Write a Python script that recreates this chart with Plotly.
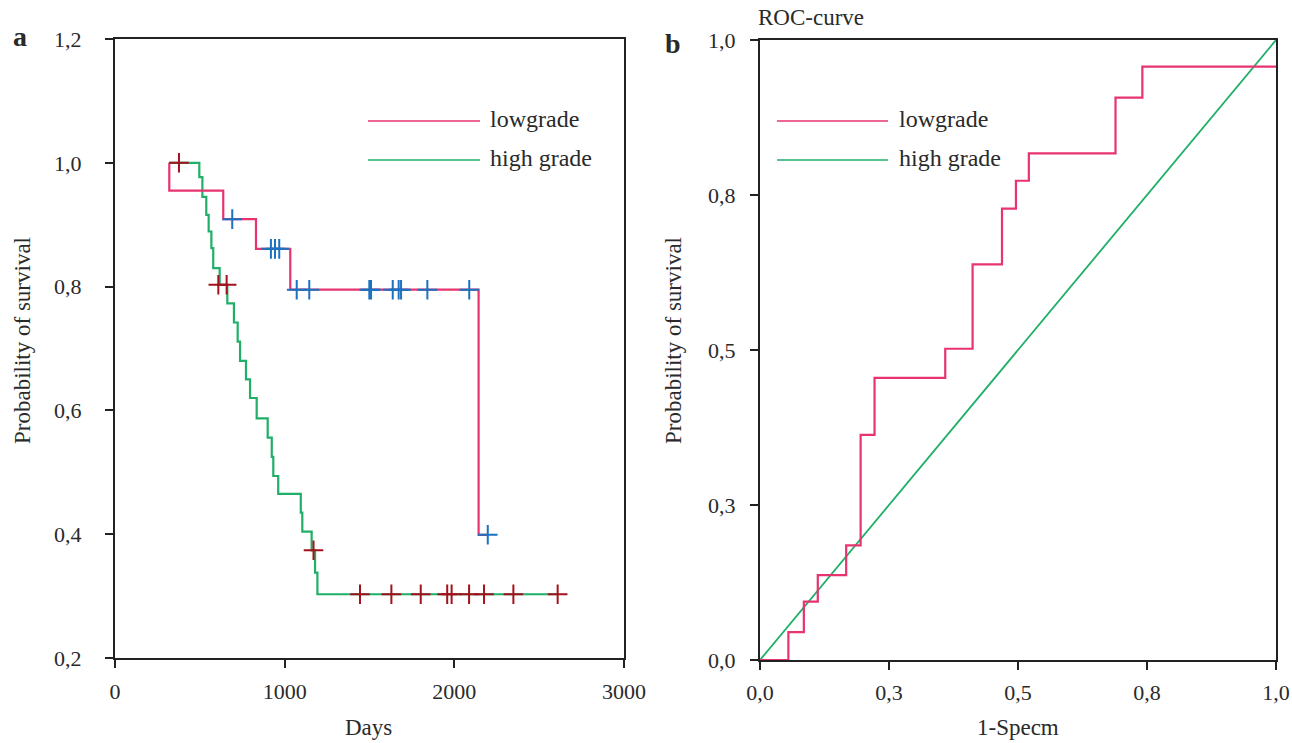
import plotly.graph_objects as go

# ---------------- Panel a: Kaplan-Meier ----------------
low_t = [320, 320, 638, 831, 1033, 2143, 2197]
low_s = [1.0, 0.955, 0.909, 0.861, 0.795, 0.399, 0.399]
low_cens_t = [691, 919, 943, 968, 1071, 1145, 1499, 1509, 1637, 1672, 1686, 1841, 2088, 2197]
low_cens_s = [0.909, 0.861, 0.861, 0.861, 0.795, 0.795, 0.795, 0.795, 0.795, 0.795, 0.795, 0.795, 0.795, 0.399]

high_t = [320, 497, 515, 538, 552, 568, 579, 617, 662, 701, 723, 737, 772, 796, 835,
          900, 924, 933, 962, 1095, 1104, 1159, 1179, 1193, 2609]
high_s = [1.0, 0.977, 0.945, 0.916, 0.889, 0.862, 0.830, 0.803, 0.773, 0.742, 0.711, 0.680,
          0.650, 0.620, 0.587, 0.556, 0.525, 0.494, 0.465, 0.435, 0.404, 0.374, 0.338, 0.303, 0.303]
high_cens_t = [377, 609, 658, 1170, 1444, 1629, 1802, 1958, 1984, 2087, 2175, 2348, 2609]
high_cens_s = [1.0, 0.803, 0.803, 0.374, 0.303, 0.303, 0.303, 0.303, 0.303, 0.303, 0.303, 0.303, 0.303]

km_xticks = [0, 1000, 2000, 3000]
km_yticks = [0.2, 0.4, 0.6, 0.8, 1.0, 1.2]
km_yticktext = ["0,2", "0,4", "0,6", "0,8", "1,0", "1,2"]

# ---------------- Panel b: ROC ----------------
roc_fpr = [0, 0.055, 0.085, 0.112, 0.167, 0.195, 0.222, 0.359, 0.412, 0.469, 0.496, 0.521,
           0.689, 0.741, 1.0]
roc_tpr = [0, 0.045, 0.094, 0.137, 0.185, 0.363, 0.455, 0.502, 0.638, 0.728, 0.773, 0.817,
           0.907, 0.957, 0.957]
ref_x = [0, 1]
ref_y = [0, 1]
roc_ticks = [0, 0.25, 0.5, 0.75, 1.0]
roc_ticktext = ["0,0", "0,3", "0,5", "0,8", "1,0"]

PINK = "#e8336f"
GREEN = "#1faf68"
BLUE = "#1a72c0"
RED = "#a3121c"
AX = "#222222"
TXT = "#2a2a2a"
FONT = "Liberation Serif"

W, H = 1292, 743
def px(x):
    return x / W
def py(y):
    return 1 - y / H

fig = go.Figure()

fig.add_trace(go.Scatter(x=high_t, y=high_s, mode="lines", line=dict(color=GREEN, width=2.2, shape="hv"),
                         xaxis="x", yaxis="y", showlegend=False))
fig.add_trace(go.Scatter(x=low_t, y=low_s, mode="lines", line=dict(color=PINK, width=2.2, shape="hv"),
                         xaxis="x", yaxis="y", showlegend=False))
fig.add_trace(go.Scatter(x=low_cens_t, y=low_cens_s, mode="markers",
                         marker=dict(symbol="cross-thin", size=14, line=dict(color=BLUE, width=2)),
                         xaxis="x", yaxis="y", showlegend=False))
fig.add_trace(go.Scatter(x=high_cens_t, y=high_cens_s, mode="markers",
                         marker=dict(symbol="cross-thin", size=14, line=dict(color=RED, width=2)),
                         xaxis="x", yaxis="y", showlegend=False))

fig.add_trace(go.Scatter(x=ref_x, y=ref_y, mode="lines", line=dict(color=GREEN, width=1.8),
                         xaxis="x2", yaxis="y2", showlegend=False))
fig.add_trace(go.Scatter(x=roc_fpr, y=roc_tpr, mode="lines", line=dict(color=PINK, width=2.2, shape="hv"),
                         xaxis="x2", yaxis="y2", showlegend=False))

axis_common = dict(showline=True, mirror=True, linecolor=AX, linewidth=2, ticks="outside",
                   ticklen=8, tickwidth=2, tickcolor=AX, showgrid=False, zeroline=False,
                   automargin=False, ticklabeloverflow="allow",
                   tickfont=dict(family=FONT, size=22, color=TXT))

fig.update_layout(
    template="none",
    width=W, height=H, margin=dict(l=0, r=0, t=0, b=0, pad=0, autoexpand=False),
    paper_bgcolor="white", plot_bgcolor="white",
    xaxis=dict(domain=[px(115), px(624)], range=[0, 3000], tickvals=km_xticks,
               ticklabelstandoff=5, anchor="y", **axis_common),
    yaxis=dict(domain=[py(658), py(39)], range=[0.2, 1.2], tickvals=km_yticks,
               ticktext=km_yticktext, ticklabelstandoff=19, anchor="x", **axis_common),
    xaxis2=dict(domain=[px(760), px(1276)], range=[0, 1], tickvals=roc_ticks, ticktext=roc_ticktext,
                ticklabelstandoff=4, anchor="y2", **axis_common),
    yaxis2=dict(domain=[py(660), py(40)], range=[0, 1], tickvals=roc_ticks, ticktext=roc_ticktext,
                ticklabelstandoff=10, anchor="x2", **axis_common),
)

# legend lines (drawn as shapes) and texts
for (x0, x1, y, col) in [(368, 480, 121, PINK), (368, 480, 160, GREEN),
                         (777, 888, 121, PINK), (777, 888, 160, GREEN)]:
    fig.add_shape(type="line", xref="paper", yref="paper", x0=px(x0), x1=px(x1), y0=py(y), y1=py(y),
                  line=dict(color=col, width=1.6))

def add_text(text, x, y, size=21, xanchor="left", bold=False, angle=0):
    t = f"<b>{text}</b>" if bold else text
    fig.add_annotation(text=t, xref="paper", yref="paper", x=px(x), y=py(y), xanchor=xanchor,
                       yanchor="middle", showarrow=False, textangle=angle,
                       font=dict(family=FONT, size=size, color=TXT))

add_text("lowgrade", 488, 119, size=24)
add_text("high grade", 488, 158, size=24)
add_text("lowgrade", 897, 119, size=24)
add_text("high grade", 897, 158, size=24)
add_text("a", 11, 36, size=28, bold=True)
add_text("b", 663, 44, size=28, bold=True)
add_text("ROC-curve", 756, 18, size=23)
add_text("Probability of survival", 22, 341, size=23, xanchor="center", angle=-90)
add_text("Probability of survival", 673, 341, size=23, xanchor="center", angle=-90)
add_text("Days", 368, 727, size=23, xanchor="center")
add_text("1-Specm", 1018, 727, size=23, xanchor="center")

# remove the default 8px page margin so the 1292x743 figure fills the window exactly
fig.write_html("out.html", config={"displayModeBar": False},
               post_script="document.body.style.margin='0';document.body.style.overflow='hidden';")
